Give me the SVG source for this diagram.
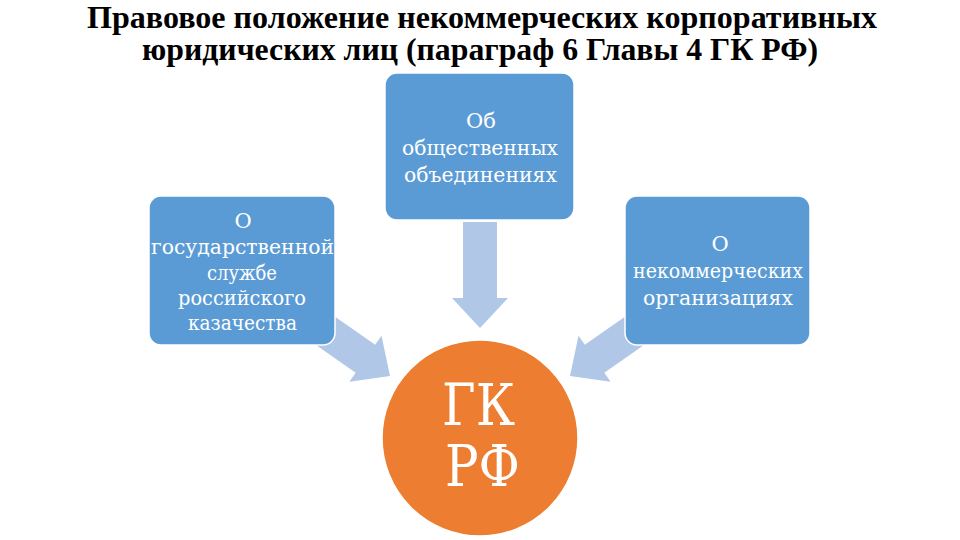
<svg xmlns="http://www.w3.org/2000/svg" width="960" height="540" viewBox="0 0 960 540">
<defs>
<style>
.title{font-family:"Liberation Serif","Times New Roman",serif;font-weight:bold;font-size:32px;fill:#000}
.box{fill:#5B9BD5;stroke:#ffffff;stroke-width:1.5}
.bt{font-family:"DejaVu Serif","Liberation Serif",serif;font-size:21px;fill:#ffffff}
.c{text-anchor:middle}
.ct{font-family:"DejaVu Serif","Liberation Serif",serif;font-size:57px;fill:#ffffff}
.arrow{fill:#B1C7E8}
</style>
<polygon id="arr" points="-106,-17 -30,-17 -30,-28 0,0 -30,28 -30,17 -106,17"/>
</defs>
<rect width="960" height="540" fill="#ffffff"/>
<text class="title" x="87" y="28" textLength="790" lengthAdjust="spacingAndGlyphs">Правовое положение некоммерческих корпоративных</text>
<text class="title" x="142" y="60" textLength="676" lengthAdjust="spacingAndGlyphs">юридических лиц (параграф 6 Главы 4 ГК РФ)</text>
<g id="connectors" class="arrow">
<use href="#arr" transform="translate(480,328) rotate(90)"/>
<use href="#arr" transform="translate(390,376) rotate(35)"/>
<use href="#arr" transform="translate(570,376) rotate(145)"/>
</g>
<g id="node-top">
<rect class="box" x="385" y="73" width="189" height="147" rx="12"/>
<text class="bt c" x="481" y="128">Об</text>
<text class="bt" x="402" y="155" textLength="156" lengthAdjust="spacingAndGlyphs">общественных</text>
<text class="bt" x="404" y="182" textLength="153" lengthAdjust="spacingAndGlyphs">объединениях</text>
</g>
<g id="node-left">
<rect class="box" x="149" y="196" width="186" height="149" rx="12"/>
<text class="bt c" x="243" y="228">О</text>
<text class="bt" x="151" y="254" textLength="183" lengthAdjust="spacingAndGlyphs">государственной</text>
<text class="bt" x="207" y="280" textLength="70" lengthAdjust="spacingAndGlyphs">службе</text>
<text class="bt" x="178" y="305" textLength="128" lengthAdjust="spacingAndGlyphs">российского</text>
<text class="bt" x="188" y="330" textLength="109" lengthAdjust="spacingAndGlyphs">казачества</text>
</g>
<g id="node-right">
<rect class="box" x="625" y="196" width="185" height="149" rx="12"/>
<text class="bt c" x="720" y="251">О</text>
<text class="bt" x="633" y="278" textLength="170" lengthAdjust="spacingAndGlyphs">некоммерческих</text>
<text class="bt" x="643" y="305" textLength="150" lengthAdjust="spacingAndGlyphs">организациях</text>
</g>
<g id="node-center">
<circle cx="480" cy="438" r="98" fill="#ED7D31" stroke="#ffffff" stroke-width="1.5"/>
<text class="ct" x="442" y="425" textLength="73" lengthAdjust="spacingAndGlyphs">ГК</text>
<text class="ct" x="445" y="486" textLength="75" lengthAdjust="spacingAndGlyphs">РФ</text>
</g>
</svg>
